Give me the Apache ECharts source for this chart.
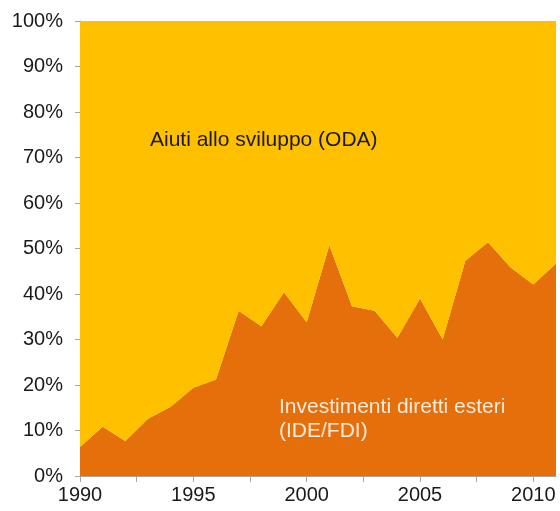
<!DOCTYPE html>
<html>
<head>
<meta charset="utf-8">
<script src="https://cdn.jsdelivr.net/npm/echarts@6/dist/echarts.min.js"></script>
<style>
html,body{margin:0;padding:0;background:#fff;}
#chart{width:560px;height:511px;}
</style>
</head>
<body>
<div id="chart"></div>
<script>
const years = [1990,1991,1992,1993,1994,1995,1996,1997,1998,1999,2000,2001,2002,2003,2004,2005,2006,2007,2008,2009,2010,2011];
const fdiShare = [6.4,10.8,7.7,12.6,15.2,19.4,21.2,36.3,32.9,40.4,33.8,50.7,37.3,36.3,30.4,39.0,30.0,47.3,51.4,45.8,42.1,46.7];
const odaShare = [93.6,89.2,92.3,87.4,84.8,80.6,78.8,63.7,67.1,59.6,66.2,49.3,62.7,63.7,69.6,61.0,70.0,52.7,48.6,54.2,57.9,53.3];
const yTicks = [0,10,20,30,40,50,60,70,80,90,100];
const labelODA = 'Aiuti allo sviluppo (ODA)';
const labelFDI = 'Investimenti diretti esteri\n(IDE/FDI)';

const font = '"Liberation Sans", Arial, sans-serif';
const chart = echarts.init(document.getElementById('chart'), null, {renderer:'canvas'});
// data items are [share, year] so the stacked dimension is the share (y)
chart.setOption({
  animation: false,
  grid: {left: 80, right: 4, top: 21, bottom: 35},
  xAxis: {
    type: 'value', min: 1990, max: 2011, interval: 2.5,
    axisLine: {show: true, lineStyle: {color: '#a6a6a6'}},
    axisTick: {show: true, length: 6, lineStyle: {color: '#a6a6a6'}},
    splitLine: {show: false},
    axisLabel: {
      showMaxLabel: false,
      color: '#1a1a1a', fontFamily: font, fontSize: 20, margin: 9,
      formatter: v => (v % 5 === 0 ? String(v) : '')
    }
  },
  yAxis: {
    type: 'value', min: yTicks[0], max: yTicks[yTicks.length-1], interval: 10,
    axisLine: {show: true, lineStyle: {color: '#a6a6a6'}},
    axisTick: {show: true, length: 5, lineStyle: {color: '#a6a6a6'}},
    splitLine: {show: false},
    axisLabel: {color: '#1a1a1a', fontFamily: font, fontSize: 20, margin: 17, formatter: '{value}%'}
  },
  series: [
    {
      name: 'FDI', type: 'line', stack: 's', showSymbol: false, symbol: 'none',
      encode: {x: 1, y: 0},
      lineStyle: {width: 0}, areaStyle: {color: '#E46F0B', opacity: 1},
      data: years.map((y,i) => [fdiShare[i], y])
    },
    {
      name: 'ODA', type: 'line', stack: 's', showSymbol: false, symbol: 'none',
      encode: {x: 1, y: 0},
      lineStyle: {width: 0}, areaStyle: {color: '#FFC000', opacity: 1},
      data: years.map((y,i) => [odaShare[i], y])
    }
  ],
  graphic: [
    {type: 'text', z: 100, left: 150, top: 130, style: {text: labelODA, fill: '#1a1a1a', font: '21px ' + font}},
    {type: 'text', z: 100, left: 279, top: 395, style: {text: labelFDI, fill: '#FBEBDD', font: '21px ' + font, lineHeight: 24}}
  ]
});
</script>
</body>
</html>
